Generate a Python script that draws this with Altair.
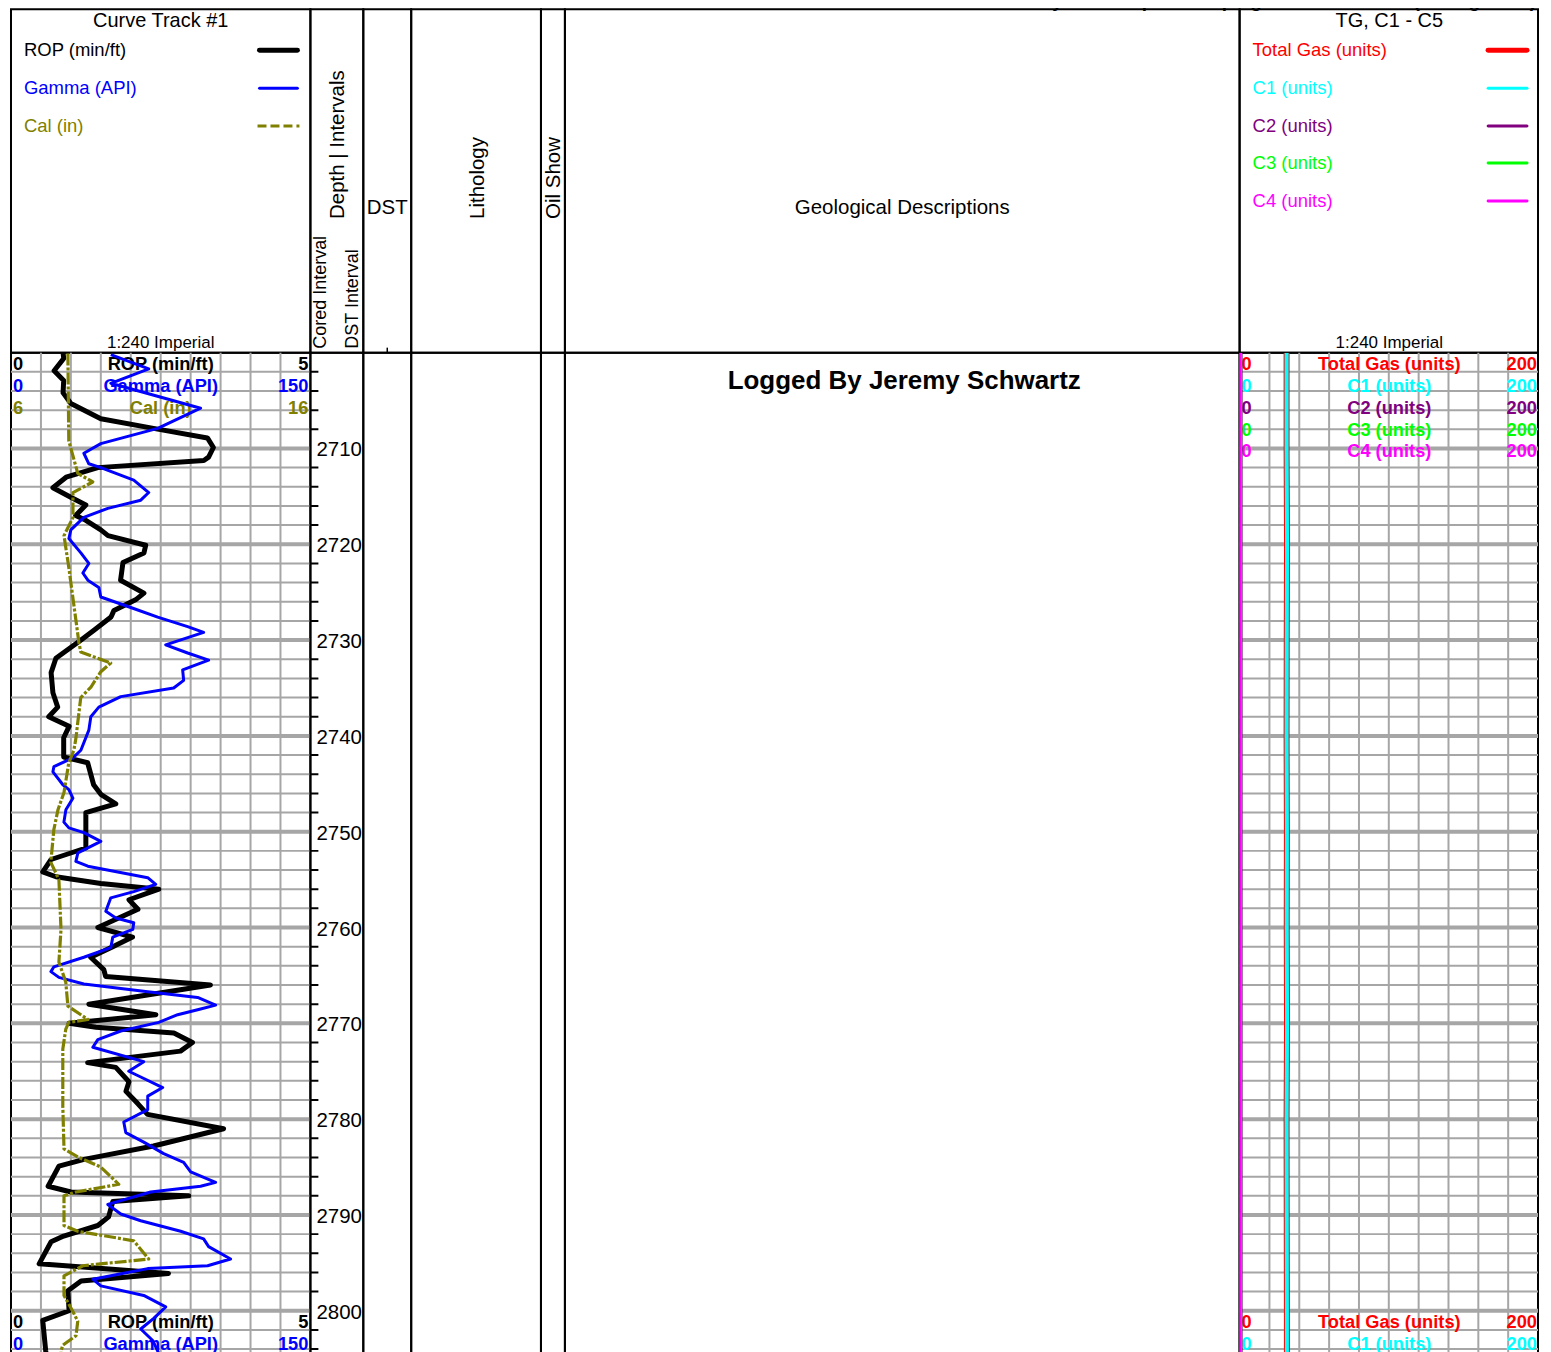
import altair as alt
import pandas as pd

rop_depth = [2700.0, 2700.6, 2701.9, 2702.9, 2704.2, 2705.3, 2706.9, 2707.9, 2708.9, 2709.9,
             2710.9, 2711.25, 2712.0, 2713.0, 2714.1, 2715.2, 2715.9, 2717.0, 2717.5, 2718.5,
             2719.1, 2720.1, 2720.9, 2721.9, 2723.75, 2725.1, 2725.8, 2726.9, 2727.6, 2729.0,
             2730.0, 2731.9, 2733.4, 2735.5, 2737.0, 2738.0, 2739.0, 2740.2, 2742.2, 2742.8,
             2745.1, 2746.1, 2747.1, 2748.0, 2751.7, 2752.9, 2754.2, 2754.7, 2755.4, 2756.0,
             2757.1, 2758.1, 2760.0, 2761.0, 2762.0, 2763.1, 2764.4, 2765.1, 2766.0, 2768.0,
             2769.1, 2770.0, 2770.4, 2771.0, 2772.0, 2772.9, 2774.1, 2774.6, 2776.1, 2777.1,
             2778.4, 2779.5, 2781.0, 2782.8, 2784.2, 2784.9, 2787.0, 2787.6, 2788.0, 2788.6,
             2790.2, 2791.1, 2792.2, 2792.8, 2795.1, 2796.1, 2796.9, 2797.9, 2800.0, 2801.0,
             2804.2, 2805.0]
rop_val = [0.87, 0.88, 0.72, 0.88, 0.87, 1.0, 1.5, 2.38, 3.28, 3.38,
           3.3, 3.22, 1.45, 0.92, 0.7, 1.03, 1.25, 1.08, 1.25, 1.5,
           1.62, 2.25, 2.22, 1.87, 1.83, 2.22, 2.08, 1.72, 1.67, 1.38,
           1.17, 0.75, 0.67, 0.7, 0.78, 0.63, 0.97, 0.88, 0.88, 1.28,
           1.38, 1.5, 1.75, 1.25, 1.25, 0.67, 0.53, 0.75, 1.5, 2.47,
           1.97, 2.12, 1.45, 2.03, 1.7, 1.33, 1.55, 1.58, 3.33, 1.3,
           2.42, 0.97, 1.42, 2.72, 3.03, 2.83, 1.28, 1.75, 1.97, 1.92,
           2.12, 2.28, 3.55, 2.38, 1.22, 0.8, 0.62, 1.0, 2.97, 1.7,
           1.63, 1.45, 0.88, 0.67, 0.47, 2.63, 1.17, 0.95, 0.97, 0.53,
           0.58, 0.6]

gr_depth = [2700.2, 2701.7, 2703.2, 2705.8, 2707.9, 2709.5, 2710.5, 2711.6, 2712.0, 2713.3,
            2714.6, 2715.4, 2716.25, 2717.2, 2718.5, 2719.4, 2720.9, 2722.0, 2723.0, 2723.75,
            2724.5, 2725.5, 2726.6, 2727.6, 2728.6, 2729.2, 2730.5, 2731.35, 2732.1, 2733.1,
            2734.2, 2735.0, 2735.9, 2737.0, 2738.0, 2739.4, 2741.5, 2742.3, 2743.2, 2743.75,
            2745.1, 2745.6, 2746.5, 2747.7, 2749.0, 2749.6, 2750.1, 2751.0, 2752.2, 2753.1,
            2753.6, 2754.8, 2755.5, 2756.25, 2756.9, 2758.3, 2759.0, 2759.5, 2760.2, 2761.0,
            2762.1, 2763.1, 2764.1, 2764.6, 2765.2, 2765.9, 2766.7, 2767.3, 2768.1, 2768.5,
            2769.1, 2769.9, 2770.8, 2771.7, 2772.5, 2774.0, 2775.0, 2775.6, 2776.7, 2777.6,
            2779.0, 2780.3, 2781.4, 2782.4, 2783.6, 2784.5, 2785.5, 2786.6, 2787.0, 2787.6,
            2788.9, 2789.9, 2790.6, 2791.7, 2792.5, 2793.3, 2794.6, 2795.3, 2795.6, 2796.7,
            2797.4, 2798.4, 2799.6, 2800.8, 2801.9, 2803.1, 2804.2, 2805.0]
gr_val = [50, 69, 50, 95, 73.5, 45, 36.5, 39, 45, 61.5,
          69, 65, 48.5, 36.5, 30, 29, 35, 39, 36, 38.5,
          44, 45, 60, 73.5, 88.5, 96.5, 77.5, 88.5, 99, 86,
          86.5, 81.5, 55, 44, 40, 39, 35, 31, 21.5, 21,
          26, 29, 31, 27.5, 26.5, 29, 36.5, 45, 33.5, 32.5,
          38.5, 68.5, 72.5, 61.5, 50, 47.5, 52.5, 61.5, 61, 51,
          50, 36.5, 21.5, 20, 24, 36.5, 68.5, 93.5, 102.5, 95,
          83.5, 74, 55, 43.5, 41, 66.5, 59, 65, 76, 68.5,
          68.5, 56.5, 57.5, 66.5, 76.5, 86.5, 90, 102.5, 95, 70,
          48.5, 55, 65, 85, 96.5, 99, 110, 98.5, 68.5, 41,
          45, 66.5, 77.5, 71.5, 65, 71, 73.5, 75]

cal_depth = [2700.1, 2709.2, 2712.6, 2713.5, 2714.6, 2717.2, 2719.1, 2722.4, 2730.3, 2731.25,
             2732.4, 2733.3, 2734.9, 2736.0, 2738.6, 2740.2, 2741.5, 2742.8, 2745.9, 2747.7,
             2749.8, 2753.2, 2755.0, 2760.2, 2763.6, 2765.7, 2768.2, 2769.6, 2769.9, 2770.6,
             2772.7, 2775.1, 2778.6, 2783.1, 2784.0, 2785.0, 2786.8, 2787.6, 2788.0, 2791.1,
             2791.7, 2792.7, 2794.6, 2795.3, 2796.35, 2798.4, 2800.1, 2801.1, 2802.6, 2803.6,
             2804.2, 2805.0]
cal_val = [7.9, 7.93, 8.23, 8.73, 8.07, 8.07, 7.77, 7.93, 8.27, 8.33,
           9.33, 9.0, 8.67, 8.33, 8.23, 8.17, 8.1, 7.93, 7.77, 7.57,
           7.43, 7.33, 7.6, 7.67, 7.6, 7.83, 7.9, 8.57, 7.93, 7.83,
           7.73, 7.73, 7.73, 7.77, 8.27, 9.0, 9.6, 8.17, 7.77, 7.77,
           8.23, 10.1, 10.6, 8.4, 7.77, 7.77, 8.07, 8.23, 8.17, 7.73,
           7.67, 7.67]

gas_depth = [2700, 2710, 2720, 2730, 2740, 2750, 2760, 2770, 2780, 2790, 2800, 2805]
tg_val = [31.5, 31.5, 31.8, 31.6, 31.5, 31.7, 31.6, 31.8, 31.5, 31.6, 31.7, 31.7]
c1_val = [31.5, 31.5, 31.8, 31.6, 31.5, 31.7, 31.6, 31.8, 31.5, 31.6, 31.7, 31.7]
c2_val = [0, 0, 0, 0, 0, 0, 0, 0, 0, 0, 0, 0]
c3_val = [0, 0, 0, 0, 0, 0, 0, 0, 0, 0, 0, 0]
c4_val = [0, 0, 0, 0, 0, 0, 0, 0, 0, 0, 0, 0]

depth_labels = [2710, 2720, 2730, 2740, 2750, 2760, 2770, 2780, 2790, 2800]
depth_ticks = [d for d in range(2702, 2806, 2) if d % 10 != 0]
major_lines = [2710, 2720, 2730, 2740, 2750, 2760, 2770, 2780, 2790, 2800]
curve_grid = [0.5, 1.0, 1.5, 2.0, 2.5, 3.0, 3.5, 4.0, 4.5]
gas_grid = [20, 40, 60, 80, 100, 120, 140, 160, 180]

curve_lab_depth = [2701.15, 2703.45, 2705.75, 2801.15, 2803.45, 2805.75]
curve_lab_left = ["0", "0", "6", "0", "0", "6"]
curve_lab_mid = ["ROP (min/ft)", "Gamma (API)", "Cal (in)", "ROP (min/ft)", "Gamma (API)", "Cal (in)"]
curve_lab_right = ["5", "150", "16", "5", "150", "16"]

gas_lab_depth = [2701.15, 2703.45, 2705.75, 2708.0, 2710.2, 2801.15, 2803.45, 2805.75, 2808.0, 2810.2]
gas_lab_mid = ["Total Gas (units)", "C1 (units)", "C2 (units)", "C3 (units)", "C4 (units)"] * 2
gas_lab_left = ["0"] * 10
gas_lab_right = ["200"] * 10

# ---------------- styling ----------------
FONT = "Liberation Sans"
GRID = "#a6a6a6"
C_ROP, C_GR, C_CAL = "black", "#0000ff", "#808000"
C_TG, C_C1, C_C2, C_C3, C_C4 = "#ff0000", "#00ffff", "#800080", "#00ff00", "#ff00ff"
curve_cols = [C_ROP, C_GR, C_CAL] * 2
gas_cols = [C_TG, C_C1, C_C2, C_C3, C_C4] * 2

W = [300, 53, 48, 130, 24, 676, 299]
HEADER_H = 344
DATA_H = 1006
PX_FT = 9.6
D_TOP = 2700
D_BOT = D_TOP + DATA_H / PX_FT

ONE = pd.DataFrame({"a": [0]})
ys = alt.Scale(domain=[D_TOP, D_BOT], reverse=True, nice=False, zero=False)


def htext(text, x, y, size, color="black", align="center", angle=0, bold=False, baseline="middle", clip=False):
    return alt.Chart(pd.DataFrame({"t": [text]})).mark_text(
        align=align, baseline=baseline, angle=angle, fontSize=size, font=FONT,
        color=color, fontWeight="bold" if bold else "normal", clip=clip
    ).encode(x=alt.value(x), y=alt.value(y), text="t:N")


def sample(x1, x2, y, color, width, dash=None):
    kw = dict(color=color, strokeWidth=width, strokeCap="round")
    if dash:
        kw = dict(color=color, strokeWidth=width, strokeDash=dash)
    return alt.Chart(ONE).mark_rule(**kw).encode(x=alt.value(x1), x2=alt.value(x2), y=alt.value(y))


def blank(w, h):
    return alt.Chart(ONE).mark_point(opacity=0).encode(x=alt.value(1), y=alt.value(1)).properties(width=w, height=h)


def grid_layers(vals, xscale):
    vg = alt.Chart(pd.DataFrame({"v": vals})).mark_rule(color=GRID, strokeWidth=2).encode(
        x=alt.X("v:Q", scale=xscale, axis=None))
    mn = alt.Chart(pd.DataFrame({"d": depth_ticks})).mark_rule(color=GRID, strokeWidth=2, clip=True).encode(
        y=alt.Y("d:Q", scale=ys, axis=None))
    mj = alt.Chart(pd.DataFrame({"d": major_lines})).mark_rule(color=GRID, strokeWidth=4, clip=True).encode(
        y=alt.Y("d:Q", scale=ys, axis=None))
    return [vg, mn, mj]


def scale_labels(df, xl, xm, xr):
    out = []
    for field, xp, al in [("l", xl, "left"), ("m", xm, "center"), ("r", xr, "right")]:
        out.append(alt.Chart(df).mark_text(
            align=al, baseline="middle", fontSize=18.3, fontWeight="bold", font=FONT, clip=True, dy=1.5
        ).encode(x=alt.value(xp), y=alt.Y("d:Q", scale=ys, axis=None), text=f"{field}:N",
                 color=alt.Color("c:N", scale=None)))
    return out


def curve(depths, vals, xscale, color, width, dash=None):
    kw = dict(color=color, strokeWidth=width, clip=True, strokeJoin="round")
    if dash:
        kw["strokeDash"] = dash
    return alt.Chart(pd.DataFrame({"d": depths, "v": vals})).mark_line(**kw).encode(
        x=alt.X("v:Q", scale=xscale, axis=None),
        y=alt.Y("d:Q", scale=ys, axis=None),
        order="d:Q")


# ---------------- header cells ----------------
LEG_Y = [41, 79, 117, 154, 192]
curve_head = alt.layer(
    htext("Curve Track #1", 150, 12, 20),
    htext("ROP (min/ft)", 13, LEG_Y[0], 18.5, C_ROP, "left"),
    htext("Gamma (API)", 13, LEG_Y[1], 18.5, C_GR, "left"),
    htext("Cal (in)", 13, LEG_Y[2], 18.5, C_CAL, "left"),
    sample(249, 287, LEG_Y[0], C_ROP, 5),
    sample(249, 287, LEG_Y[1], C_GR, 3),
    sample(247, 289, LEG_Y[2], C_CAL, 3, [9, 4]),
    htext("1:240 Imperial", 150, 334, 17),
).properties(width=W[0], height=HEADER_H)

depth_head = alt.layer(
    htext("Depth | Intervals", 28, 210, 20.5, align="left", angle=270),
    htext("Cored Interval", 11, 340, 18, align="left", angle=270),
    htext("DST Interval", 43, 340, 18, align="left", angle=270),
).properties(width=W[1], height=HEADER_H)

dst_head = alt.layer(
    htext("DST", 24, 199, 20.5),
    alt.Chart(ONE).mark_rule(color="black", strokeWidth=1.5).encode(
        x=alt.value(24), y=alt.value(339), y2=alt.value(344)),
).properties(width=W[2], height=HEADER_H)

lith_head = htext("Lithology", 67, 210, 20.5, align="left", angle=270).properties(width=W[3], height=HEADER_H)
oil_head = htext("Oil Show", 13, 210, 20.5, align="left", angle=270).properties(width=W[4], height=HEADER_H)
geo_head = htext("Geological Descriptions", 338, 199, 20.5).properties(width=W[5], height=HEADER_H)

gas_names = ["Total Gas (units)", "C1 (units)", "C2 (units)", "C3 (units)", "C4 (units)"]
gas_colors = [C_TG, C_C1, C_C2, C_C3, C_C4]
gas_head_layers = [
    # print banner above the log frame (its upper part falls outside the page)
    htext("Printed by GEOStrip VC Striplog version 4.0.0.15 (www.grsi.ca)", 297, -2, 19,
          align="right", bold=True, baseline="alphabetic"),
    htext("TG, C1 - C5", 150, 12, 20),
]
for i, (nm, cc) in enumerate(zip(gas_names, gas_colors)):
    gas_head_layers.append(htext(nm, 13, LEG_Y[i], 18.5, cc, "left"))
    gas_head_layers.append(sample(249, 288, LEG_Y[i], cc, 5 if i == 0 else 3))
gas_head_layers.append(htext("1:240 Imperial", 150, 334, 17))
gas_head = alt.layer(*gas_head_layers).properties(width=W[6], height=HEADER_H)

# ---------------- data cells ----------------
rop_x = alt.Scale(domain=[0, 5], nice=False, zero=False)
gr_x = alt.Scale(domain=[0, 150], nice=False, zero=False)
cal_x = alt.Scale(domain=[6, 16], nice=False, zero=False)
gas_x = alt.Scale(domain=[0, 200], nice=False, zero=False)

curve_lab_df = pd.DataFrame({"d": curve_lab_depth, "l": curve_lab_left, "m": curve_lab_mid,
                             "r": curve_lab_right, "c": curve_cols})
curve_panel = alt.layer(
    *grid_layers(curve_grid, rop_x),
    *scale_labels(curve_lab_df, 2, 150, 298),
    curve(rop_depth, rop_val, rop_x, C_ROP, 5),
    curve(gr_depth, gr_val, gr_x, C_GR, 3),
    curve(cal_depth, cal_val, cal_x, C_CAL, 3.2, [12, 2, 3, 2]),
).resolve_scale(x="independent").properties(width=W[0], height=DATA_H)

depth_panel = alt.layer(
    alt.Chart(pd.DataFrame({"d": depth_ticks})).mark_rule(color="black", strokeWidth=2, clip=True).encode(
        y=alt.Y("d:Q", scale=ys, axis=None), x=alt.value(0), x2=alt.value(8)),
    alt.Chart(pd.DataFrame({"d": depth_labels})).mark_text(
        align="left", baseline="middle", fontSize=20.5, font=FONT, color="black", clip=True, dy=2).encode(
        y=alt.Y("d:Q", scale=ys, axis=None), x=alt.value(6), text="d:N"),
).properties(width=W[1], height=DATA_H)

geo_panel = htext("Logged By Jeremy Schwartz", 340, 28, 26, bold=True).properties(width=W[5], height=DATA_H)

gas_lab_df = pd.DataFrame({"d": gas_lab_depth, "l": gas_lab_left, "m": gas_lab_mid,
                           "r": gas_lab_right, "c": gas_cols})
gas_panel = alt.layer(
    *grid_layers(gas_grid, gas_x),
    *scale_labels(gas_lab_df, 2, 150, 298),
    curve(gas_depth, c2_val, gas_x, C_C2, 6),
    curve(gas_depth, c3_val, gas_x, C_C3, 5),
    curve(gas_depth, c4_val, gas_x, C_C4, 4),
    curve(gas_depth, tg_val, gas_x, C_TG, 6),
    curve(gas_depth, c1_val, gas_x, C_C1, 4),
).resolve_scale(x="independent").properties(width=W[6], height=DATA_H)

cells = [curve_head, depth_head, dst_head, lith_head, oil_head, geo_head, gas_head,
         curve_panel, depth_panel, blank(W[2], DATA_H), blank(W[3], DATA_H),
         blank(W[4], DATA_H), geo_panel, gas_panel]

chart = alt.concat(*cells, columns=7, spacing=0, bounds="flush").configure_view(
    stroke="black", strokeWidth=2
).properties(padding={"left": 2, "top": -18, "right": 4, "bottom": 0})

chart.save("out.html", embed_options={"renderer": "svg", "actions": False})
